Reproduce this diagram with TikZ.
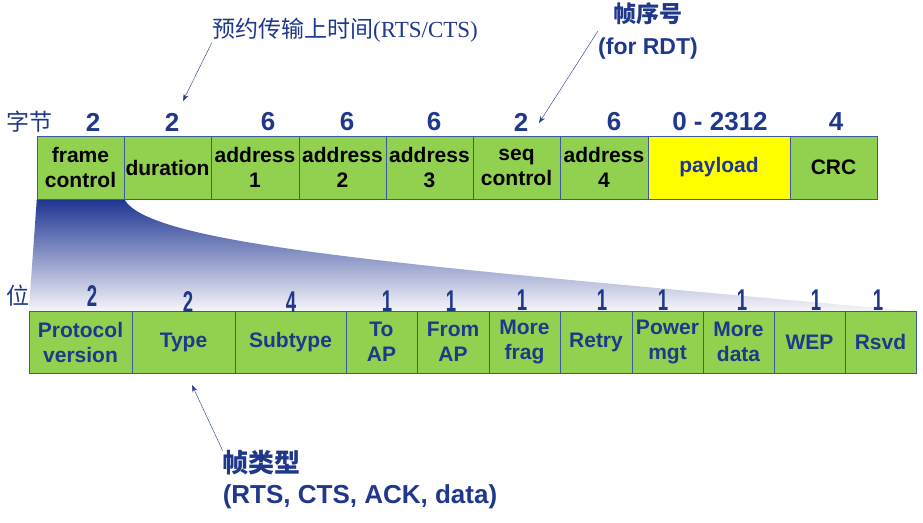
\documentclass[tikz,border=0pt]{standalone}
\usepackage{fontspec}
\setsansfont{Liberation Sans}
\newfontfamily\cjk{Noto Sans CJK SC}
\newfontfamily\latserif{Liberation Serif}
\usepackage{xcolor}
\usetikzlibrary{arrows.meta,backgrounds}
\definecolor{fieldgreen}{RGB}{146,208,80}
\definecolor{fieldline}{RGB}{60,88,160}
\definecolor{labelblue}{RGB}{31,56,140}
\definecolor{fanblue}{RGB}{30,52,145}
\definecolor{fanend}{RGB}{246,246,250}
\definecolor{payyellow}{RGB}{255,255,0}
\newcommand{\narrownum}[1]{\scalebox{0.62}[1]{#1}}

\begin{document}
\begin{tikzpicture}[x=1pt, y=-1pt,
    field/.style={rectangle, draw=fieldline, fill=fieldgreen, thin, inner sep=1pt, align=center, minimum height=63pt, font=\sffamily\bfseries\fontsize{21}{25}\selectfont},
    bitfield/.style={field, minimum height=62pt, text=labelblue},
    bytenum/.style={font=\sffamily\bfseries\fontsize{26}{28}\selectfont, text=labelblue, inner sep=0pt},
    bitnum/.style={bytenum, font=\sffamily\bfseries\fontsize{30}{32}\selectfont},
    unitlbl/.style={font=\cjk\fontsize{23}{25}\selectfont, text=labelblue, inner sep=0pt},
    note/.style={text=labelblue, align=center, inner sep=0pt, font=\sffamily\bfseries\fontsize{23}{32}\selectfont},
    arr/.style={-{Stealth[length=7pt, width=5pt]}, labelblue, thin},
  ]
    \useasboundingbox (0,0) rectangle (923,522);

    % --- frame fields (bytes) ---
    \node[unitlbl] (bytes) at (29,122) {字节};
    \node[field, minimum width=87pt] (fc) at (80.5,167.5) {frame\\control};
    \node[field, minimum width=87pt] (dur) at (167.5,167.5) {duration};
    \node[field, minimum width=88pt] (a1) at (255,167.5) {address\\1};
    \node[field, minimum width=87pt] (a2) at (342.5,167.5) {address\\2};
    \node[field, minimum width=87pt] (a3) at (429.5,167.5) {address\\3};
    \node[field, minimum width=87pt] (seq) at (516.5,167.5) {seq\\control};
    \node[field, minimum width=88pt] (a4) at (604,167.5) {address\\4};
    \node[field, minimum width=142pt, fill=payyellow, text=labelblue] (pay) at (719,167.5) {payload};
    \node[field, minimum width=87pt] (crc) at (833.5,167.5) {CRC};

    \node[bytenum] (n-fc) at (93,122) {2};
    \node[bytenum] (n-dur) at (172,122) {2};
    \node[bytenum] (n-a1) at (268,122) {6};
    \node[bytenum] (n-a2) at (347,122) {6};
    \node[bytenum] (n-a3) at (434,122) {6};
    \node[bytenum] (n-seq) at (521,122) {2};
    \node[bytenum] (n-a4) at (614,122) {6};
    \node[bytenum] (n-pay) at (720,122) {0 - 2312};
    \node[bytenum] (n-crc) at (836,122) {4};

    % --- frame control fields (bits) ---
    \node[unitlbl] (bits) at (18,296) {位};
    \node[bitfield, minimum width=103pt] (pv) at (80.5,342) {Protocol\\version};
    \node[bitfield, minimum width=103pt] (type) at (183.5,342) {Type};
    \node[bitfield, minimum width=111pt] (sub) at (290.5,342) {Subtype};
    \node[bitfield, minimum width=71pt] (toap) at (381.5,342) {To\\AP};
    \node[bitfield, minimum width=72pt] (fromap) at (453,342) {From\\AP};
    \node[bitfield, minimum width=71pt] (mfrag) at (524.5,342) {More\\frag};
    \node[bitfield, minimum width=72pt] (retry) at (596,342) {Retry};
    \node[bitfield, minimum width=71pt] (pwr) at (667.5,342) {Power\\mgt};
    \node[bitfield, minimum width=71pt] (mdata) at (738.5,342) {More\\data};
    \node[bitfield, minimum width=71pt] (wep) at (809.5,342) {WEP};
    \node[bitfield, minimum width=71pt] (rsvd) at (880.5,342) {Rsvd};

    \node[bitnum] (b-pv) at (92,296) {\narrownum{2}};
    \node[bitnum] (b-type) at (188,302) {\narrownum{2}};
    \node[bitnum] (b-sub) at (291,302) {\narrownum{4}};
    \node[bitnum] (b-toap) at (387,301) {\narrownum{1}};
    \node[bitnum] (b-fromap) at (451,301) {\narrownum{1}};
    \node[bitnum] (b-mfrag) at (522,300) {\narrownum{1}};
    \node[bitnum] (b-retry) at (602,300) {\narrownum{1}};
    \node[bitnum] (b-pwr) at (663,300) {\narrownum{1}};
    \node[bitnum] (b-mdata) at (742,300) {\narrownum{1}};
    \node[bitnum] (b-wep) at (816,300) {\narrownum{1}};
    \node[bitnum] (b-rsvd) at (878,300) {\narrownum{1}};

    % Fan from frame control down to its bits
    \begin{scope}[on background layer]
      \shade[top color=fanblue, middle color=fanblue!58!fanend, bottom color=fanend]
        (fc.south west) -- (fc.south east)
        .. controls (150,245) and (400,265) .. (912,311)
        -- (pv.north west) -- cycle;
    \end{scope}

    % --- notes ---
    \node[note, font=\cjk\fontsize{23}{27}\selectfont] (rtsnote) at (345,30) {预约传输上时间{\latserif(RTS/CTS)}};
    \node[note] (seqnote) at (648,31) {{\cjk 帧序号}\\(for RDT)};
    \node[note, align=left, font=\sffamily\bfseries\fontsize{26}{31}\selectfont] (typenote) at (360,480) {{\cjk 帧类型}\\(RTS, CTS, ACK, data)};

    \coordinate (durtip) at (183,101);
    \coordinate (seqtip) at (539,123);
    \coordinate (typetip) at (192,385);

    \draw[arr] (rtsnote.south west) -- (durtip);
    \draw[arr] (seqnote.west) -- (seqtip);
    \draw[arr] (typenote.north west) -- (typetip);

  \end{tikzpicture}
\end{document}
